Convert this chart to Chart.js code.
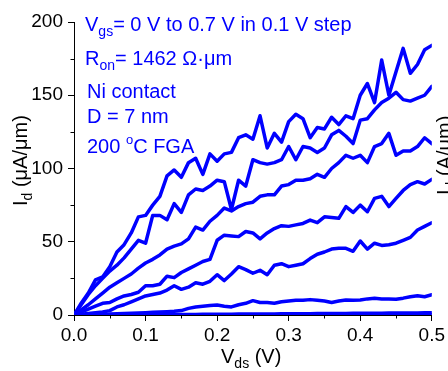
<!DOCTYPE html>
<html>
<head>
<meta charset="utf-8">
<script src="https://cdn.jsdelivr.net/npm/chart.js@4"></script>
<style>
html, body { margin: 0; padding: 0; background: #fff; }
</style>
</head>
<body>
<canvas id="chart" width="448" height="371"></canvas>
<script>
// Vds sweep (V)
var vds = [0.00,0.01,0.02,0.03,0.04,0.05,0.06,0.07,0.08,0.09,0.10,
           0.11,0.12,0.13,0.14,0.15,0.16,0.17,0.18,0.19,0.20,
           0.21,0.22,0.23,0.24,0.25,0.26,0.27,0.28,0.29,0.30,
           0.31,0.32,0.33,0.34,0.35,0.36,0.37,0.38,0.39,0.40,
           0.41,0.42,0.43,0.44,0.45,0.46,0.47,0.48,0.49,0.50];

var vgsLabels = ['0 V','0.1 V','0.2 V','0.3 V','0.4 V','0.5 V','0.6 V','0.7 V'];

// Id (uA/um), one array per Vgs
var id_vgs00 = [0,0,0.01,0.01,0.02,0.02,0.03,0.03,0.04,0.04,0.05,
                0.05,0.06,0.06,0.07,0.07,0.08,0.09,0.09,0.1,0.1,
                0.11,0.12,0.12,0.13,0.13,0.14,0.15,0.15,0.16,0.17,
                0.17,0.18,0.19,0.19,0.2,0.21,0.21,0.22,0.23,0.23,
                0.24,0.25,0.25,0.26,0.27,0.28,0.28,0.29,0.3,0.3];
var id_vgs01 = [0,0.02,0.04,0.06,0.08,0.1,0.12,0.14,0.16,0.18,0.2,
                0.22,0.25,0.28,0.3,0.33,0.36,0.4,0.43,0.46,0.5,
                0.53,0.56,0.6,0.63,0.66,0.7,0.73,0.76,0.8,0.83,
                0.86,0.9,0.93,0.96,1.0,1.03,1.06,1.1,1.13,1.16,
                1.2,1.23,1.26,1.3,1.33,1.36,1.4,1.43,1.46,1.5];
var id_vgs02 = [0,0.1,0.2,0.3,0.4,0.6,0.8,1,1.2,1.4,1.6,
                1.8,2,2.2,2.5,3,4.5,5.5,6,6.5,6.8,
                6,5.5,7,8,9.8,8.5,8.5,8,9,9.6,
                10,10,10.5,10,9.5,8.5,9.5,10.2,10,10.2,
                11,11.4,11,10.9,10.7,11.5,12.5,13.2,12.5,13.8];
var id_vgs03 = [0,0.5,1,1.5,2,3,5.5,7,9,11,13,
                14,15,17,20,17.5,19,22,21,23,27.5,
                23.5,28,33,31,28.5,30.5,27.5,34,35,33,
                34,35,38.5,41.5,43,45,45.5,45.5,43.5,50.5,
                45,49,47.5,48,49,51,53,58,60.5,63];
var id_vgs04 = [0,2,4,6,8,8.5,11,13,14,15.5,20,
                20,21,26.5,25.5,29,31.5,34,36.5,38,51,
                54.5,54,53.5,57,56,52,56,59,61,60.5,
                61.5,62.5,64.8,63,67,66.5,66,74,70,75,
                70.5,79.6,81,74,79.6,85,89,91,89.4,92.6];
var id_vgs05 = [0,3.5,7,11,15,19,22,25,28,32,35.5,
                38,41,45,47,48.5,52,60,58,64,68,
                73,71,74,76,77,81,82,82,88,89,
                92,92,93,96,94,100,104,109,107,109,
                104,115,117,124,109,112,112,115,121,117];
var id_vgs06 = [0,7,14,20,25,30,34,39,45,51,49,
                68,68,65,76,70,82,86,85,88,92,
                91,72,92,88,106,104,103,104,106,115,
                106,115,114,111,114,123,126,122,117,133,
                134,140,145,148,152,147,146,148,150,156];
var id_vgs07 = [0,8,15,24,26,33,43,48,56,67,68,
                75,81,95,99,94,104,107,96,110,105,
                110,111,121,123,120,136,114,124,118,132,
                137,134,121,128,127,135,130,136,134,150,
                158,145,174,150,166,182,165,171,181,184];

var idSeries = [id_vgs00, id_vgs01, id_vgs02, id_vgs03, id_vgs04, id_vgs05, id_vgs06, id_vgs07];

var xMinorTicks = [0.05, 0.15, 0.25, 0.35, 0.45];
var yMinorTicks = [25, 75, 125, 175];

var FONT = '"Liberation Sans", Arial, sans-serif';
var BLUE = '#0000ff';

function toPoints(ys) {
  return ys.map(function (y, i) { return { x: vds[i], y: y }; });
}

// draw a row of text pieces: [text, size, baseline shift]
function drawRuns(ctx, x, y, parts, color) {
  ctx.fillStyle = color;
  ctx.textAlign = 'left';
  ctx.textBaseline = 'alphabetic';
  parts.forEach(function (p) {
    ctx.font = p[1] + 'px ' + FONT;
    ctx.fillText(p[0], x, y + (p[2] || 0));
    x += ctx.measureText(p[0]).width;
  });
}

var extras = {
  id: 'extras',
  afterDraw: function (chart) {
    var ctx = chart.ctx;
    var xs = chart.scales.x, ys = chart.scales.y;
    ctx.save();

    // minor ticks
    ctx.strokeStyle = '#000';
    ctx.lineWidth = 1;
    ctx.beginPath();
    xMinorTicks.forEach(function (v) {
      var px = Math.round(xs.getPixelForValue(v)) + 0.5;
      ctx.moveTo(px, ys.bottom);
      ctx.lineTo(px, ys.bottom + 3.5);
    });
    yMinorTicks.forEach(function (v) {
      var py = Math.round(ys.getPixelForValue(v)) + 0.5;
      ctx.moveTo(xs.left, py);
      ctx.lineTo(xs.left - 3.5, py);
    });
    ctx.stroke();

    // annotations
    drawRuns(ctx, 85, 31, [['V', 20], ['gs', 14, 5], ['= 0 V to 0.7 V in 0.1 V step', 20]], BLUE);
    drawRuns(ctx, 85, 65, [['R', 20], ['on', 14, 5], ['= 1462 \u03A9\u00B7\u03BCm', 20]], BLUE);
    drawRuns(ctx, 87, 98, [['Ni contact', 20]], BLUE);
    drawRuns(ctx, 87, 123, [['D = 7 nm', 20]], BLUE);
    drawRuns(ctx, 87, 153, [['200 ', 20], ['o', 13, -9], ['C FGA', 20]], BLUE);

    // axis titles
    drawRuns(ctx, 221, 363, [['V', 20], ['ds', 14, 5], [' (V)', 20]], '#000');

    ctx.save();
    ctx.translate(27, 206);
    ctx.rotate(-Math.PI / 2);
    drawRuns(ctx, 0, 0, [['I', 20], ['d', 14, 5], [' (\u03BCA/\u03BCm)', 20]], '#000');
    ctx.restore();

    // neighbouring panel's label, cut by the edge
    ctx.save();
    ctx.translate(451, 195);
    ctx.rotate(-Math.PI / 2);
    drawRuns(ctx, 0, 0, [['I', 20], ['d', 14, 5], [' (A/\u03BCm)', 20]], '#000');
    ctx.restore();

    ctx.restore();
  }
};

new Chart(document.getElementById('chart'), {
  type: 'line',
  data: {
    datasets: idSeries.map(function (s, i) {
      return {
        label: vgsLabels[i],
        data: toPoints(s),
        borderColor: BLUE,
        backgroundColor: BLUE,
        borderWidth: 3.5,
        borderJoinStyle: 'round',
        borderCapStyle: 'round',
        pointRadius: 0,
        tension: 0,
        fill: false
      };
    })
  },
  options: {
    responsive: false,
    animation: false,
    devicePixelRatio: 1,
    layout: { padding: { left: 0, right: 16, top: 22, bottom: 0 } },
    plugins: { legend: { display: false }, tooltip: { enabled: false } },
    scales: {
      x: {
        type: 'linear',
        min: 0, max: 0.5,
        afterFit: function (s) { s.height = 56; },
        ticks: {
          stepSize: 0.1, autoSkip: false, maxRotation: 0, padding: 3,
          color: '#000', font: { size: 19, family: FONT },
          callback: function (v) { return v.toFixed(1); }
        },
        grid: { drawOnChartArea: false, tickLength: 6, color: '#000' },
        border: { color: '#000', width: 1 }
      },
      y: {
        min: 0, max: 200,
        afterFit: function (s) { s.width = 74; },
        ticks: {
          stepSize: 50, autoSkip: false, padding: 5,
          color: '#000', font: { size: 19, family: FONT }
        },
        grid: { drawOnChartArea: false, tickLength: 6, color: '#000' },
        border: { color: '#000', width: 1 }
      }
    }
  },
  plugins: [extras]
});
</script>
</body>
</html>
